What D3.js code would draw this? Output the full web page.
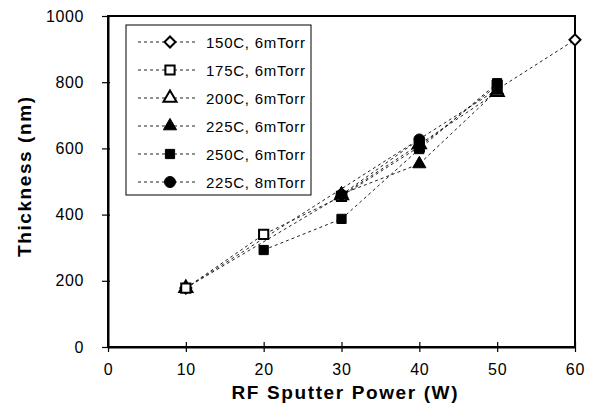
<!DOCTYPE html>
<html>
<head>
<meta charset="utf-8">
<script src="https://cdn.jsdelivr.net/npm/d3@7"></script>
<style>
  body { margin: 0; background: #fff; }
  svg { font-family: "Liberation Sans", Arial, sans-serif; }
</style>
</head>
<body>
<svg id="chart" width="600" height="412"></svg>
<script>
// data
const power = [10, 20, 30, 40, 50, 60];
const t150c6 = [178, null, null, null, null, 928];
const t175c6 = [178, 340, 455, 605, 790, null];
const t200c6 = [178, null, 458, 612, 770, null];
const t225c6 = [null, null, 462, 553, 775, null];
const t250c6 = [null, 293, 387, 598, 797, null];
const t225c8 = [null, null, 460, 627, null, null];
const xTicks = [0, 10, 20, 30, 40, 50, 60];
const yTicks = [0, 200, 400, 600, 800, 1000];

const series = [
  { name: '150C, 6mTorr', vals: t150c6, shape: 'diamond', filled: false },
  { name: '175C, 6mTorr', vals: t175c6, shape: 'square', filled: false },
  { name: '200C, 6mTorr', vals: t200c6, shape: 'triangle', filled: false },
  { name: '225C, 6mTorr', vals: t225c6, shape: 'triangle', filled: true },
  { name: '250C, 6mTorr', vals: t250c6, shape: 'square', filled: true },
  { name: '225C, 8mTorr', vals: t225c8, shape: 'circle', filled: true }
];

const svg = d3.select('#chart');
const margin = { top: 16, right: 25, bottom: 65, left: 108 };
const width = 600 - margin.left - margin.right;
const height = 412 - margin.top - margin.bottom;
const g = svg.append('g').attr('transform', `translate(${margin.left},${margin.top})`);

const x = d3.scaleLinear().domain([0, 60]).range([0, width]);
const y = d3.scaleLinear().domain([0, 1000]).range([height, 0]);

// frame
g.append('rect')
  .attr('width', width).attr('height', height)
  .attr('fill', 'none').attr('stroke', '#000').attr('stroke-width', 2);

// axes
const xAxis = g.append('g')
  .attr('transform', `translate(0,${height})`)
  .call(d3.axisBottom(x).tickValues(xTicks).tickFormat(d3.format('d'))
    .tickSizeInner(5).tickSizeOuter(0).tickPadding(12));
xAxis.selectAll('line').attr('y1', -5).attr('stroke', '#000').attr('stroke-width', 1.2);
xAxis.select('.domain').attr('stroke-width', 2);
xAxis.selectAll('text').attr('font-size', 16).attr('fill', '#000')
  .attr('font-family', '"Liberation Sans", Arial, sans-serif').style('letter-spacing', '0.8px');

const yAxis = g.append('g')
  .call(d3.axisLeft(y).tickValues(yTicks).tickFormat(d3.format('d'))
    .tickSizeInner(6).tickSizeOuter(0).tickPadding(18));
yAxis.selectAll('line').attr('x1', 2).attr('stroke', '#000').attr('stroke-width', 1.2);
yAxis.select('.domain').attr('stroke-width', 2);
yAxis.selectAll('text').attr('font-size', 16).attr('fill', '#000')
  .attr('font-family', '"Liberation Sans", Arial, sans-serif').style('letter-spacing', '0.6px');

// axis titles
svg.append('text')
  .attr('x', margin.left + width / 2 + 3).attr('y', 399)
  .attr('text-anchor', 'middle').attr('font-weight', 'bold').attr('font-size', 19)
  .attr('textLength', 226).attr('lengthAdjust', 'spacing')
  .text('RF Sputter Power (W)');

svg.append('text')
  .attr('transform', 'translate(31,177) rotate(-90)')
  .attr('text-anchor', 'middle').attr('font-weight', 'bold').attr('font-size', 19)
  .attr('textLength', 160).attr('lengthAdjust', 'spacing')
  .text('Thickness (nm)');

const symbolFor = s => ({
  diamond: d3.symbol().type(d3.symbolSquare).size(60),
  square: d3.symbol().type(d3.symbolSquare).size(85),
  triangle: d3.symbol().type(d3.symbolTriangle).size(75),
  circle: d3.symbol().type(d3.symbolCircle).size(95)
})[s.shape];

const line = d3.line()
  .defined(d => d.v !== null)
  .x(d => x(d.p))
  .y(d => y(d.v));

// draw order: open markers first, filled ones on top
const order = [2, 0, 1, 3, 4, 5];
order.forEach(i => {
  const s = series[i];
  const pts = power.map((p, j) => ({ p, v: s.vals[j] })).filter(d => d.v !== null);
  g.append('path')
    .datum(pts)
    .attr('fill', 'none')
    .attr('stroke', '#222')
    .attr('stroke-width', 1)
    .attr('stroke-dasharray', '3,3')
    .attr('d', line);
});
order.forEach(i => {
  const s = series[i];
  const pts = power.map((p, j) => ({ p, v: s.vals[j] })).filter(d => d.v !== null);
  g.selectAll(null)
    .data(pts)
    .enter().append('path')
    .attr('d', symbolFor(s))
    .attr('transform', d => `translate(${x(d.p)},${y(d.v)})${s.shape === 'diamond' ? ' rotate(45)' : ''}`)
    .attr('fill', s.filled ? '#000' : '#fff')
    .attr('stroke', '#000')
    .attr('stroke-width', s.filled ? 1 : 2);
});

// legend
const legend = svg.append('g').attr('transform', 'translate(126,25)');
legend.append('rect')
  .attr('width', 185).attr('height', 170)
  .attr('fill', '#fff').attr('stroke', '#000').attr('stroke-width', 1);
series.forEach((s, i) => {
  const row = legend.append('g').attr('transform', `translate(0,${17 + i * 28})`);
  row.append('line')
    .attr('x1', 12).attr('x2', 70)
    .attr('stroke', '#222').attr('stroke-width', 1).attr('stroke-dasharray', '3,3');
  row.append('path')
    .attr('d', symbolFor(s))
    .attr('transform', `translate(44,0)${s.shape === 'diamond' ? ' rotate(45)' : ''}`)
    .attr('fill', s.filled ? '#000' : '#fff')
    .attr('stroke', '#000')
    .attr('stroke-width', s.filled ? 1 : 2);
  row.append('text')
    .attr('x', 80).attr('y', 5.5)
    .attr('font-size', 15)
    .attr('textLength', 99).attr('lengthAdjust', 'spacing')
    .text(s.name);
});
</script>
</body>
</html>
